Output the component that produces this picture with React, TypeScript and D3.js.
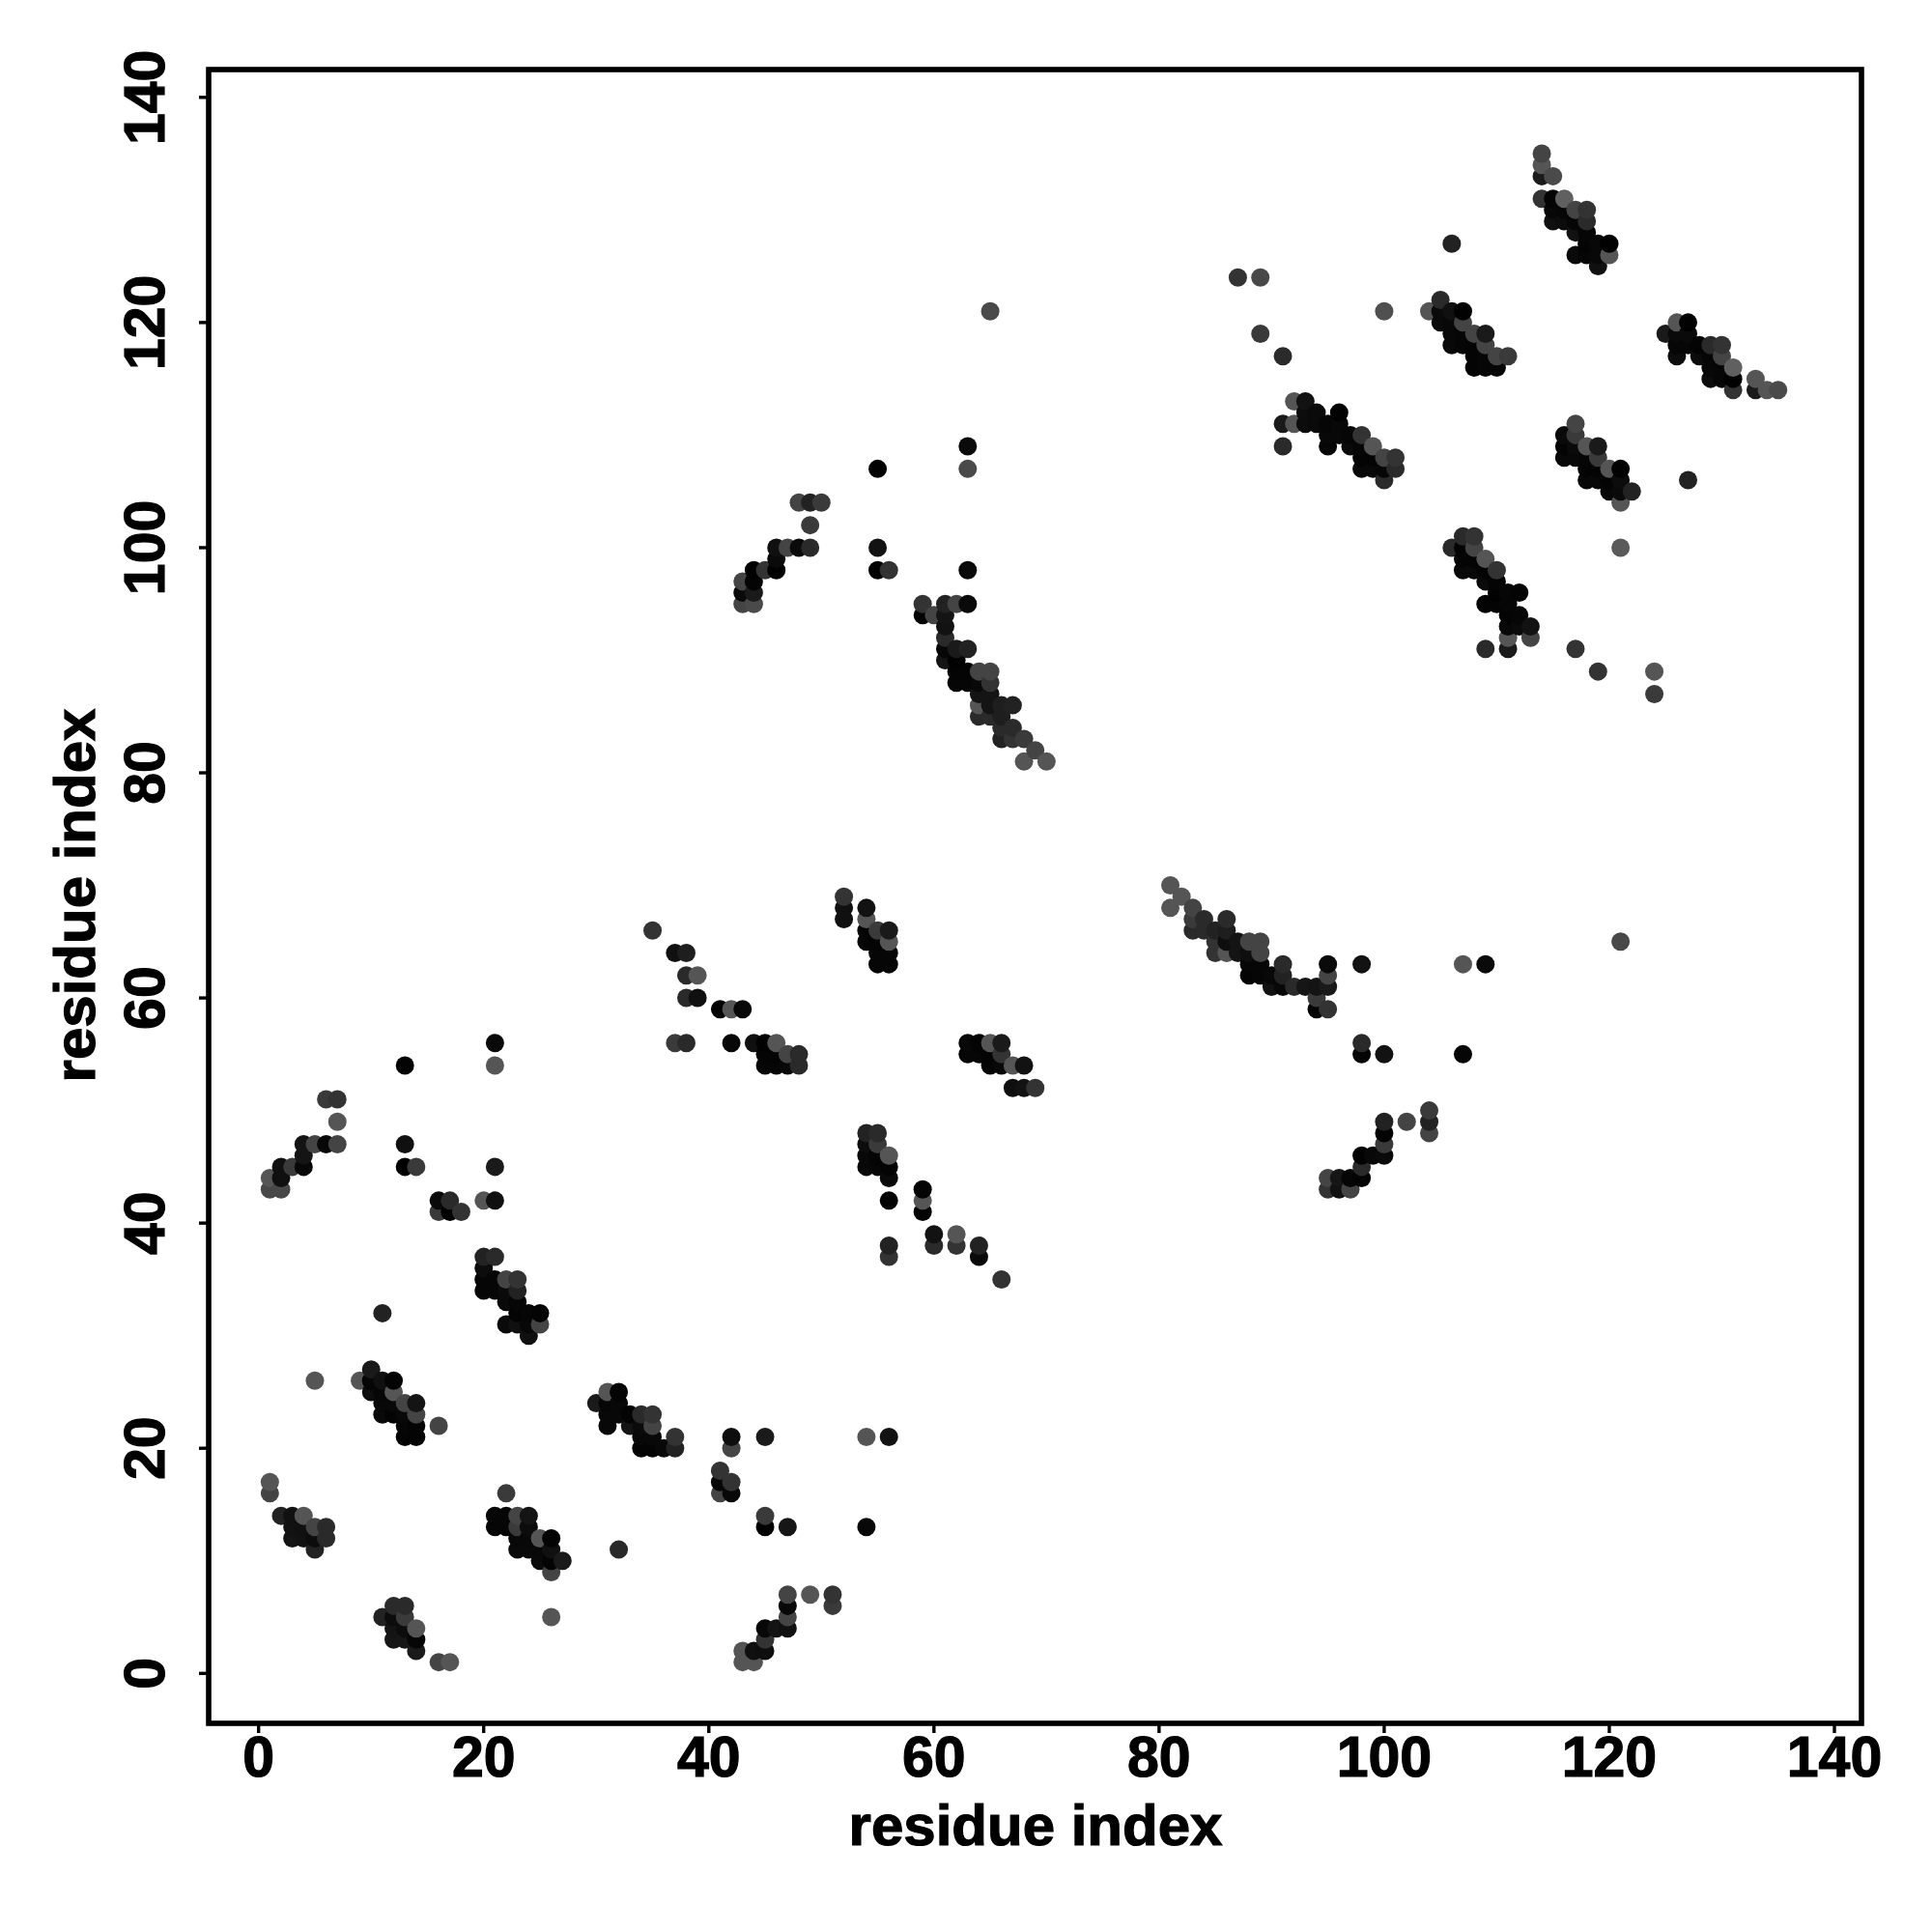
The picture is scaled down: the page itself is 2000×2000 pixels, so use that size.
import React from "react";
import * as d3 from "d3";

type P = [number, number, number];

const tickValues = [0, 20, 40, 60, 80, 100, 120, 140];
const xTitle = "residue index";
const yTitle = "residue index";

// [residue x, residue y, grey level]
const lowLeftA: P[] = [[1,17,0x55],[1,16,0x44],[2,14,0x22],[3,14,0x11],[4,14,0x55],[3,13,0x12],[4,13,0x10],[5,13,0x44],[6,13,0x2a],[3,12,0x14],[4,12,0x12],[5,12,0x0c],[6,12,0x2a],[5,11,0x22]];
const lowLeftB: P[] = [[12,6,0x2a],[13,6,0x2a],[11,5,0x22],[12,5,0x0c],[13,5,0x3a],[12,4,0x14],[13,4,0x0c],[14,4,0x55],[12,3,0x16],[13,3,0x16],[14,3,0x06],[14,2,0x1a],[16,1,0x44],[17,1,0x55]];
const lowLeftC: P[] = [[22,16,0x3a],[21,14,0x06],[22,14,0x06],[23,14,0x44],[24,14,0x14],[21,13,0x06],[22,13,0x06],[23,13,0x3a],[24,13,0x0c],[23,12,0x08],[24,12,0x08],[25,12,0x55],[26,12,0x04],[23,11,0x0a],[24,11,0x0a],[25,11,0x08],[26,11,0x10],[25,10,0x0a],[26,10,0x04],[27,10,0x1a],[26,9,0x44],[26,5,0x55]];
const blockD: P[] = [[5,26,0x55],[10,27,0x1a],[9,26,0x55],[10,26,0x06],[11,26,0x10],[12,26,0x04],[10,25,0x0c],[11,25,0x06],[12,25,0x55],[11,24,0x08],[12,24,0x08],[13,24,0x44],[14,24,0x14],[11,23,0x0a],[12,23,0x04],[13,23,0x08],[14,23,0x44],[13,22,0x06],[14,22,0x04],[16,22,0x44],[13,21,0x04],[14,21,0x04]];
const blockE: P[] = [[31,25,0x55],[32,25,0x04],[30,24,0x1a],[31,24,0x06],[32,24,0x08],[31,23,0x08],[32,23,0x08],[33,23,0x04],[34,23,0x2a],[35,23,0x33],[31,22,0x08],[33,22,0x14],[34,22,0x0a],[35,22,0x44],[34,21,0x08],[35,21,0x08],[37,21,0x33],[34,20,0x04],[35,20,0x04],[36,20,0x08],[37,20,0x22]];
const blockF: P[] = [[42,21,0x0e],[42,20,0x44],[45,21,0x1a],[54,21,0x55],[56,21,0x12],[41,18,0x33],[41,17,0x08],[41,16,0x44],[42,17,0x33],[42,16,0x08],[45,14,0x3a],[45,13,0x02],[47,13,0x16],[54,13,0x08],[32,11,0x2a]];
const blockG: P[] = [[47,7,0x44],[49,7,0x55],[51,7,0x33],[51,6,0x3a],[47,6,0x08],[47,5,0x44],[47,4,0x10],[45,4,0x08],[46,4,0x14],[45,3,0x33],[43,2,0x55],[44,2,0x10],[45,2,0x0e],[43,1,0x55],[44,1,0x55]];
const blockH: P[] = [[21,56,0x0a],[21,54,0x55],[13,54,0x04],[6,51,0x3a],[7,51,0x33],[7,49,0x55],[4,47,0x14],[5,47,0x44],[6,47,0x08],[7,47,0x44],[13,47,0x10],[4,46,0x14],[2,45,0x10],[3,45,0x3a],[4,45,0x08],[13,45,0x02],[14,45,0x3a],[21,45,0x1a],[1,44,0x55],[2,44,0x10],[1,43,0x48],[2,43,0x48],[16,42,0x0a],[17,42,0x2a],[20,42,0x55],[21,42,0x10],[16,41,0x3a],[17,41,0x02],[18,41,0x33]];
const blockI: P[] = [[11,32,0x22],[20,37,0x22],[21,37,0x2a],[20,36,0x0c],[20,35,0x06],[21,35,0x06],[22,35,0x44],[23,35,0x33],[20,34,0x06],[21,34,0x06],[22,34,0x0a],[23,34,0x22],[22,33,0x0a],[23,33,0x06],[23,32,0x04],[24,32,0x06],[25,32,0x04],[22,31,0x0a],[23,31,0x10],[24,31,0x08],[25,31,0x44],[24,30,0x10]];
const blockJ: P[] = [[35,66,0x33],[37,64,0x10],[38,64,0x1e],[38,62,0x2a],[39,62,0x55],[38,60,0x2a],[39,60,0x10],[41,59,0x02],[42,59,0x55],[43,59,0x08],[37,56,0x3a],[38,56,0x2a],[42,56,0x08],[44,56,0x10],[45,56,0x02],[46,56,0x55],[45,55,0x04],[46,55,0x04],[47,55,0x44],[48,55,0x2a],[45,54,0x06],[46,54,0x06],[47,54,0x08],[48,54,0x2a]];
const blockK: P[] = [[52,69,0x33],[52,68,0x10],[52,67,0x10],[54,68,0x12],[54,67,0x55],[54,66,0x04],[55,66,0x3a],[56,66,0x1a],[54,65,0x06],[55,65,0x04],[56,65,0x55],[55,64,0x06],[56,64,0x06],[55,63,0x06],[56,63,0x06]];
const blockL: P[] = [[63,56,0x08],[64,56,0x04],[65,56,0x55],[66,56,0x1a],[63,55,0x06],[64,55,0x06],[65,55,0x04],[66,55,0x33],[65,54,0x06],[66,54,0x08],[67,54,0x55],[68,54,0x12],[67,52,0x0e],[68,52,0x12],[69,52,0x33]];
const blockM: P[] = [[54,48,0x22],[55,48,0x2a],[54,47,0x0c],[55,47,0x3a],[54,46,0x08],[55,46,0x04],[56,46,0x55],[54,45,0x08],[55,45,0x06],[56,45,0x04],[56,44,0x0a],[56,42,0x04],[56,38,0x22],[56,37,0x33],[59,43,0x04],[59,42,0x55],[59,41,0x04],[60,39,0x12],[60,38,0x2a],[62,39,0x55],[62,38,0x33],[64,38,0x22],[64,37,0x0a],[66,35,0x33]];
const blockN: P[] = [[63,109,0x0a],[63,107,0x4a],[55,107,0x02],[48,104,0x44],[49,104,0x22],[50,104,0x3a],[49,102,0x3a],[46,100,0x10],[47,100,0x44],[48,100,0x0a],[49,100,0x2a],[55,100,0x12],[46,99,0x0a],[44,98,0x02],[45,98,0x33],[46,98,0x02],[55,98,0x02],[56,98,0x33],[63,98,0x0a],[43,97,0x44],[44,97,0x04],[43,96,0x0a],[44,96,0x1a],[43,95,0x44],[44,95,0x4a]];
const blockO: P[] = [[59,95,0x33],[61,95,0x22],[62,95,0x44],[63,95,0x0a],[59,94,0x02],[60,94,0x44],[61,94,0x14],[61,93,0x12],[61,92,0x2a],[61,91,0x06],[62,91,0x1a],[63,91,0x22],[61,90,0x14],[62,90,0x02],[62,89,0x04],[63,89,0x04],[64,89,0x44],[65,89,0x44],[62,88,0x06],[63,88,0x06],[64,88,0x08],[65,88,0x33],[64,87,0x14],[65,87,0x14],[64,86,0x55],[65,86,0x14],[66,86,0x1e],[67,86,0x22],[64,85,0x2a],[65,85,0x2a],[66,85,0x1e],[66,84,0x2a],[67,84,0x2a],[66,83,0x22],[67,83,0x33],[68,83,0x3a],[69,82,0x44],[68,81,0x55],[70,81,0x55]];
const blockP: P[] = [[81,70,0x55],[82,69,0x55],[81,68,0x55],[83,68,0x44],[83,67,0x3a],[84,67,0x2a],[86,67,0x2a],[83,66,0x2a],[84,66,0x2a],[85,66,0x22],[86,66,0x1e],[85,65,0x33],[86,65,0x0e],[87,65,0x14],[88,65,0x44],[89,65,0x44],[85,64,0x33],[86,64,0x55],[87,64,0x14],[88,64,0x0e],[89,64,0x44],[88,63,0x06],[89,63,0x06],[91,63,0x2a],[88,62,0x04],[89,62,0x06],[90,62,0x08],[91,62,0x22],[90,61,0x12],[91,61,0x08],[92,61,0x2a],[93,61,0x16],[94,61,0x14],[95,61,0x1a],[95,63,0x0a],[95,62,0x44],[94,60,0x3a],[94,59,0x04],[95,59,0x33],[98,63,0x12],[107,63,0x55],[109,63,0x0a],[98,56,0x2a],[98,55,0x04],[100,55,0x12],[107,55,0x06]];
const blockQ: P[] = [[104,50,0x3a],[104,49,0x22],[104,48,0x44],[102,49,0x44],[100,49,0x22],[100,48,0x04],[100,47,0x3a],[100,46,0x0a],[99,46,0x08],[98,46,0x02],[98,45,0x2a],[95,44,0x44],[96,44,0x16],[97,44,0x06],[98,44,0x04],[95,43,0x33],[96,43,0x12],[97,43,0x44]];
const blockR: P[] = [[92,113,0x55],[93,113,0x12],[93,112,0x0c],[94,112,0x0a],[96,112,0x02],[91,111,0x1a],[92,111,0x55],[93,111,0x0c],[94,111,0x0a],[95,111,0x06],[96,111,0x08],[95,110,0x08],[96,110,0x08],[97,110,0x06],[98,110,0x33],[91,109,0x2a],[95,109,0x06],[97,109,0x0a],[98,109,0x06],[99,109,0x55],[98,108,0x04],[99,108,0x04],[100,108,0x44],[101,108,0x33],[98,107,0x08],[99,107,0x08],[100,107,0x06],[101,107,0x2a],[100,106,0x2a]];
const blockS: P[] = [[107,101,0x2a],[108,101,0x33],[106,100,0x2a],[107,100,0x04],[108,100,0x44],[107,99,0x04],[108,99,0x04],[109,99,0x55],[107,98,0x08],[108,98,0x08],[109,98,0x04],[110,98,0x33],[109,97,0x0a],[110,97,0x04],[110,96,0x02],[111,96,0x06],[112,96,0x04],[109,95,0x04],[110,95,0x04],[111,95,0x06],[111,94,0x04],[112,94,0x06],[111,93,0x08],[112,93,0x0a],[113,93,0x12],[111,92,0x55],[113,92,0x44],[109,91,0x2a],[111,91,0x1a],[117,91,0x33],[119,89,0x33],[124,89,0x55],[124,87,0x3a]];
const blockT: P[] = [[117,111,0x44],[116,110,0x0a],[117,110,0x3a],[116,109,0x04],[117,109,0x0a],[118,109,0x55],[119,109,0x1a],[116,108,0x08],[117,108,0x08],[118,108,0x06],[119,108,0x3a],[118,107,0x04],[119,107,0x04],[120,107,0x55],[121,107,0x02],[118,106,0x08],[119,106,0x08],[120,106,0x04],[121,106,0x0c],[120,105,0x08],[121,105,0x0a],[122,105,0x22],[121,104,0x55],[121,100,0x5a],[127,106,0x22]];
const blockU: P[] = [[114,135,0x44],[114,134,0x55],[114,133,0x1a],[115,133,0x4a],[114,131,0x33],[115,131,0x04],[116,131,0x60],[115,130,0x08],[116,130,0x06],[117,130,0x44],[118,130,0x33],[115,129,0x10],[116,129,0x0c],[117,129,0x06],[118,129,0x2a],[117,128,0x12],[118,128,0x06],[118,127,0x04],[119,127,0x08],[120,127,0x02],[117,126,0x0a],[118,126,0x06],[119,126,0x08],[120,126,0x55],[119,125,0x10]];
const blockV: P[] = [[126,120,0x55],[127,120,0x02],[125,119,0x1a],[126,119,0x0a],[127,119,0x0a],[126,118,0x06],[127,118,0x06],[128,118,0x04],[129,118,0x2a],[130,118,0x33],[126,117,0x0c],[128,117,0x0c],[129,117,0x06],[130,117,0x44],[129,116,0x08],[130,116,0x06],[131,116,0x60],[129,115,0x0c],[130,115,0x06],[131,115,0x02],[131,114,0x33],[133,115,0x55],[133,114,0x1a],[134,114,0x55],[135,114,0x4a]];
const blockW: P[] = [[106,127,0x22],[105,122,0x2a],[104,121,0x55],[105,121,0x0a],[106,121,0x10],[107,121,0x02],[105,120,0x0a],[106,120,0x08],[107,120,0x44],[106,119,0x08],[107,119,0x06],[108,119,0x44],[109,119,0x1a],[106,118,0x08],[107,118,0x06],[108,118,0x04],[109,118,0x44],[108,117,0x04],[109,117,0x06],[110,117,0x44],[111,117,0x3a],[108,116,0x04],[109,116,0x06],[110,116,0x06]];
const stragglers: P[] = [[65,121,0x4a],[87,124,0x33],[89,124,0x48],[89,119,0x3a],[91,117,0x2a],[100,121,0x50],[121,65,0x48]];

const contacts: P[] = [lowLeftA, lowLeftB, lowLeftC, blockD, blockE, blockF, blockG, blockH, blockI, blockJ, blockK, blockL, blockM, blockN, blockO, blockP, blockQ, blockR, blockS, blockT, blockU, blockV, blockW, stragglers]
  .flat()
  .sort((a, b) => a[0] - b[0] || a[1] - b[1]);

const FONT = '"Liberation Sans", Arial, sans-serif';

export default function App() {
  const x = d3.scaleLinear().domain([0, 140]).range([267.7, 1899]);
  const y = d3.scaleLinear().domain([0, 140]).range([1732.3, 100.8]);
  const left = 216, right = 1927, top = 72, bottom = 1784;
  const heavy = { stroke: "#000", strokeWidth: 1.2 };
  return (
    <svg width={2000} height={2000} style={{ position: "absolute", left: 0, top: 0, background: "#fff" }} fontFamily={FONT} fontWeight="bold">
      {contacts.map(([cx, cy, g], i) => (
        <circle key={i} cx={x(cx)} cy={y(cy)} r={9.5} fill={d3.rgb(g, g, g).formatHex()} />
      ))}
      <rect x={left} y={top} width={right - left} height={bottom - top} fill="none" stroke="#000" strokeWidth={5.6} />
      {tickValues.map((t) => (
        <g key={"x" + t}>
          <line x1={x(t)} x2={x(t)} y1={bottom} y2={bottom + 10} stroke="#000" strokeWidth={3.4} />
          <text x={x(t)} y={1839} textAnchor="middle" fontSize={59} {...heavy}>{t}</text>
        </g>
      ))}
      {tickValues.map((t) => (
        <g key={"y" + t}>
          <line x1={left - 10} x2={left} y1={y(t)} y2={y(t)} stroke="#000" strokeWidth={3.4} />
          <text transform={`translate(170,${y(t)}) rotate(-90)`} textAnchor="middle" fontSize={59} {...heavy}>{t}</text>
        </g>
      ))}
      <text x={1072} y={1910} textAnchor="middle" fontSize={60} {...heavy}>{xTitle}</text>
      <text transform={`translate(98,927) rotate(-90)`} textAnchor="middle" fontSize={60} {...heavy}>{yTitle}</text>
    </svg>
  );
}
